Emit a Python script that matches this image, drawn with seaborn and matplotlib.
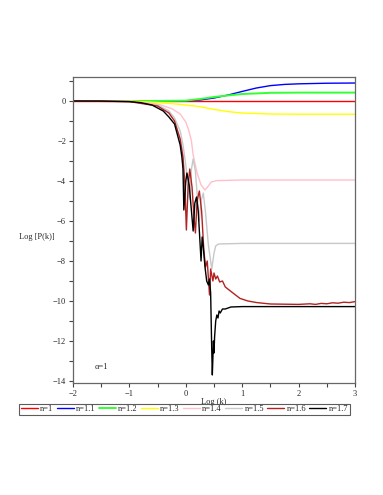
import matplotlib
matplotlib.use("Agg")
import matplotlib.pyplot as plt
import seaborn as sns
import pandas as pd
from matplotlib.ticker import MultipleLocator

# curve samples (x = Log(k), y = Log[P(k)])
x_n10 = [-2, 3]
y_n10 = [0, 0]

x_n11 = [-2, -0.5, 0, 0.25, 0.5, 0.75, 1.0, 1.25, 1.5, 1.75, 2.0, 2.5, 3.0]
y_n11 = [0, 0, 0.01, 0.05, 0.15, 0.3, 0.48, 0.65, 0.77, 0.83, 0.86, 0.89, 0.9]

x_n12 = [-2, -0.5, 0, 0.25, 0.5, 0.75, 1.0, 1.5, 2.0, 3.0]
y_n12 = [0, 0, 0.02, 0.1, 0.2, 0.28, 0.35, 0.41, 0.42, 0.42]

x_n13 = [-2, -1, -0.8, -0.5, -0.25, 0, 0.25, 0.5, 0.75, 1.0, 1.5, 2.0, 3.0]
y_n13 = [0, 0, -0.03, -0.08, -0.13, -0.2, -0.28, -0.42, -0.53, -0.6, -0.65, -0.66, -0.66]

x_n14 = [-2, -1, -0.5, -0.25, -0.1, 0, 0.05, 0.1, 0.13, 0.2, 0.27, 0.34, 0.4,
         0.45, 0.55, 1.0, 3.0]
y_n14 = [0, -0.02, -0.15, -0.38, -0.65, -1.05, -1.45, -2.0, -2.7, -3.6, -4.2, -4.45,
         -4.25, -4.05, -3.98, -3.95, -3.95]

x_n15 = [-2, -1, -0.5, -0.3, -0.2, -0.1, -0.05, 0, 0.04, 0.07, 0.1, 0.13, 0.17,
         0.21, 0.24, 0.27, 0.31, 0.35, 0.4, 0.46, 0.5, 0.53, 0.58, 1.0, 3.0]
y_n15 = [0, -0.03, -0.2, -0.5, -0.85, -1.5, -2.2, -3.2, -4.3, -4.9, -3.4, -2.9,
         -3.5, -5.0, -6.0, -5.0, -4.6, -5.6, -7.2, -8.4, -7.6, -7.25, -7.15, -7.12, -7.12]

x_n16 = [-2, -1, -0.5, -0.3, -0.2, -0.1, -0.05, -0.02, 0.01, 0.04, 0.07, 0.11,
         0.15, 0.17, 0.2, 0.24, 0.28, 0.32, 0.35, 0.38, 0.42, 0.44, 0.48, 0.5,
         0.53, 0.56, 0.6, 0.65, 0.7, 0.79, 0.96, 1.1, 1.26, 1.5, 2.0, 2.2, 2.3,
         2.4, 2.5, 2.6, 2.7, 2.8, 2.9, 3.0]
y_n16 = [0, -0.03, -0.25, -0.6, -1.0, -1.9, -2.8, -4.0, -6.45, -4.3, -3.4, -4.3,
         -6.0, -6.6, -5.0, -4.5, -5.5, -7.5, -8.3, -8.0, -9.7, -8.4, -9.0, -8.6,
         -8.9, -8.75, -9.05, -9.0, -9.3, -9.5, -9.87, -10.0, -10.08, -10.15, -10.17,
         -10.14, -10.17, -10.12, -10.14, -10.09, -10.11, -10.06, -10.08, -10.03]

x_n17 = [-2, -1.5, -1, -0.8, -0.6, -0.4, -0.3, -0.2, -0.1, -0.07, -0.05, -0.035,
         0.0, 0.02, 0.06, 0.1, 0.13, 0.16, 0.19, 0.22, 0.25, 0.27, 0.29, 0.31,
         0.34, 0.37, 0.4, 0.42, 0.44, 0.46, 0.47, 0.49, 0.5, 0.51, 0.53, 0.55,
         0.57, 0.59, 0.61, 0.65, 0.7, 0.8, 1.0, 3.0]
y_n17 = [0, 0, -0.03, -0.08, -0.2, -0.5, -0.8, -1.15, -2.2, -2.8, -3.4, -5.45,
         -4.0, -3.6, -4.2, -5.5, -6.5, -5.1, -4.8, -5.5, -7.0, -8.0, -6.8, -7.3,
         -8.3, -9.0, -9.2, -8.9, -9.6, -12.5, -13.7, -12.0, -12.6, -11.8, -11.0, -10.7,
         -10.85, -10.5, -10.6, -10.4, -10.4, -10.3, -10.28, -10.28]

labels = ["n=1", "n=1.1", "n=1.2", "n=1.3", "n=1.4", "n=1.5", "n=1.6", "n=1.7"]
colors = ["#ff0000", "#0000ff", "#33ff33", "#ffff00", "#ffc0cb", "#c8c8c8", "#b22222", "#000000"]

xs = [x_n10, x_n11, x_n12, x_n13, x_n14, x_n15, x_n16, x_n17]
ys = [y_n10, y_n11, y_n12, y_n13, y_n14, y_n15, y_n16, y_n17]

sns.set_style("white")
plt.rcParams['font.family'] = ['Liberation Serif', 'DejaVu Serif']

fig = plt.figure(figsize=(3.83, 4.95), dpi=100)
ax = fig.add_axes([0.1906, 0.2263, 0.7364, 0.6181])

for lab, col, xv, yv in zip(labels, colors, xs, ys):
    df = pd.DataFrame({"x": xv, "y": yv})
    lw = 1.4 if lab == "n=1.2" else 1.0
    sns.lineplot(data=df, x="x", y="y", ax=ax, color=col, lw=lw, label=lab,
                 sort=False, estimator=None)

ax.set_xlim(-2, 3)
ax.set_ylim(-14.1, 1.2)
ax.xaxis.set_major_locator(MultipleLocator(1))
ax.xaxis.set_minor_locator(MultipleLocator(0.5))
ax.yaxis.set_major_locator(MultipleLocator(2))
ax.yaxis.set_minor_locator(MultipleLocator(1))
ax.tick_params(which="both", direction="out", length=3, width=0.8, color="#444444",
               labelsize=6, pad=2, bottom=True, left=True)

for s in ax.spines.values():
    s.set_color("#666666")
    s.set_linewidth(0.9)

ax.set_xlabel("Log (k)", fontsize=6, labelpad=0)
ax.set_ylabel("Log [P(k)]", fontsize=6, rotation=0)
ax.yaxis.set_label_coords(-0.128, 0.465)

ax.text(-1.62, -13.3, "\u03b1=1", fontsize=6, va="center", ha="left")

ax.get_legend().remove()
handles, labs = ax.get_legend_handles_labels()
leg = fig.legend(handles, labs, loc="center", bbox_to_anchor=(0.482, 0.173), ncol=8,
                 fontsize=6, frameon=True, fancybox=False, edgecolor="#333333",
                 handlelength=2.0, handletextpad=0.3, columnspacing=0.4,
                 borderpad=0.2, borderaxespad=0)
leg.get_frame().set_linewidth(0.8)

fig.savefig("out.png", dpi=100)
